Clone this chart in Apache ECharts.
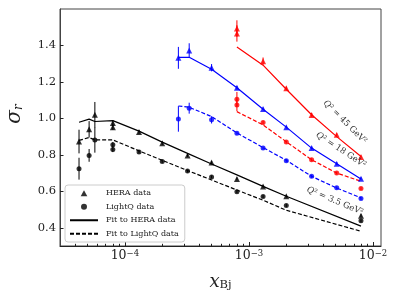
<!DOCTYPE html>
<html><head><meta charset="utf-8">
<script src="https://cdn.jsdelivr.net/npm/echarts@6/dist/echarts.min.js"></script>
<style>html,body{margin:0;padding:0;background:#fff}#c{width:399px;height:299px}</style>
</head><body><div id="c"></div>
<script>
// ---- axis ticks ----
const xMajorTicks = [1e-4, 1e-3, 1e-2];
const xMinorTicks = [4e-5,5e-5,6e-5,7e-5,8e-5,9e-5,2e-4,3e-4,4e-4,5e-4,6e-4,7e-4,8e-4,9e-4,2e-3,3e-3,4e-3,5e-3,6e-3,7e-3,8e-3,9e-3];
const yTicks = [0.4, 0.6, 0.8, 1.0, 1.2, 1.4];

// ---- Q2 = 3.5 GeV2 (black) ----
const blackX        = [4.27e-5, 5.15e-5, 5.73e-5, 8.0e-5, 8.0e-5, 1.3e-4, 2.0e-4, 3.2e-4, 5.0e-4, 8.0e-4, 1.3e-3, 2.0e-3, 8.0e-3];
const blackHera     = [0.873, 0.940, 1.020, 0.974, 0.952, 0.925, 0.864, 0.797, 0.758, 0.668, 0.627, 0.573, 0.466];
const blackHeraErr  = [0.065, 0.045, 0.070, 0.015, 0.015, 0.010, 0.010, 0.008, 0.008, 0.008, 0.008, 0.008, 0.008];
const blackLightQ   = [0.724, 0.797, 0.882, 0.855, 0.830, 0.815, 0.764, 0.711, 0.679, 0.598, 0.571, 0.522, 0.438];
const blackLightQErr= [0.060, 0.035, 0.070, 0.015, 0.015, 0.008, 0.008, 0.008, 0.008, 0.008, 0.008, 0.008, 0.008];
const blackFitX     = [4.27e-5, 5.15e-5, 5.73e-5, 8.0e-5, 1.3e-4, 2.0e-4, 3.2e-4, 5.0e-4, 8.0e-4, 1.3e-3, 2.0e-3, 8.0e-3];
const blackFitHera  = [0.979, 0.996, 0.983, 0.988, 0.930, 0.870, 0.808, 0.750, 0.690, 0.627, 0.573, 0.409];
const blackFitLightQ= [0.879, 0.895, 0.882, 0.882, 0.822, 0.770, 0.714, 0.662, 0.607, 0.551, 0.496, 0.381];

// ---- Q2 = 18 GeV2 (blue) ----
const blueX         = [2.7e-4, 3.3e-4, 5.0e-4, 8.0e-4, 1.3e-3, 2.0e-3, 3.2e-3, 5.1e-3, 8.0e-3];
const blueHera      = [1.332, 1.372, 1.278, 1.168, 1.052, 0.952, 0.837, 0.751, 0.669];
const blueHeraErr   = [0.060, 0.040, 0.020, 0.010, 0.008, 0.008, 0.008, 0.008, 0.008];
const blueLightQ    = [0.997, 1.056, 0.992, 0.919, 0.837, 0.768, 0.682, 0.619, 0.560];
const blueLightQErr = [0.070, 0.030, 0.020, 0.008, 0.008, 0.008, 0.008, 0.008, 0.008];
const blueFitHera   = [1.335, 1.335, 1.270, 1.168, 1.050, 0.952, 0.837, 0.751, 0.667];
const blueFitLightQ = [1.068, 1.061, 1.010, 0.920, 0.840, 0.770, 0.682, 0.618, 0.564];

// ---- Q2 = 45 GeV2 (red) ----
const redX          = [8.0e-4, 8.0e-4, 1.3e-3, 2.0e-3, 3.2e-3, 5.1e-3, 8.0e-3];
const redHera       = [1.493, 1.466, 1.314, 1.165, 1.019, 0.910, 0.788];
const redHeraErr    = [0.045, 0.045, 0.020, 0.010, 0.010, 0.008, 0.008];
const redLightQ     = [1.105, 1.074, 0.977, 0.870, 0.773, 0.700, 0.615];
const redLightQErr  = [0.040, 0.035, 0.010, 0.008, 0.008, 0.008, 0.008];
const redFitX       = [8.0e-4, 1.3e-3, 2.0e-3, 3.2e-3, 5.1e-3, 8.0e-3];
const redFitHera    = [1.392, 1.292, 1.160, 1.020, 0.900, 0.791];
const redFitLightQ  = [1.037, 0.964, 0.872, 0.773, 0.700, 0.655];

const legendNames = ['HERA data', 'LightQ data', 'Fit to HERA data', 'Fit to LightQ data'];
const FONT = 'DejaVu Serif';

function pairs(xs, ys) { return xs.map((x, i) => [x, ys[i]]); }
function scatter(name, xs, ys, symbol, color) {
  return { type: 'scatter', name, data: pairs(xs, ys), symbol,
    symbolSize: symbol === 'triangle' ? 6 : 5, itemStyle: { color }, z: 4 };
}
function fit(name, xs, ys, color, dashed) {
  return { type: 'line', name, data: pairs(xs, ys), symbol: 'none', showSymbol: false, z: 3,
    lineStyle: { color, width: 1.2, type: dashed ? [4, 2] : 'solid' }, itemStyle: { color } };
}
function errbars(xs, ys, es, color) {
  return { type: 'custom', silent: true, z: 2,
    data: xs.map((x, i) => [x, ys[i] - es[i], ys[i] + es[i]]),
    encode: { x: 0, y: [1, 2] },
    renderItem(params, api) {
      const a = api.coord([api.value(0), api.value(1)]);
      const b = api.coord([api.value(0), api.value(2)]);
      return { type: 'line', shape: { x1: a[0], y1: a[1], x2: b[0], y2: b[1] },
        style: { stroke: color, lineWidth: 1 } };
    } };
}

const series = [
  errbars(blackX, blackHera, blackHeraErr, '#000'),
  errbars(blackX, blackLightQ, blackLightQErr, '#000'),
  errbars(blueX, blueHera, blueHeraErr, '#0000ff'),
  errbars(blueX, blueLightQ, blueLightQErr, '#0000ff'),
  errbars(redX, redHera, redHeraErr, '#ff0000'),
  errbars(redX, redLightQ, redLightQErr, '#ff0000'),
  scatter('HERA data', blackX, blackHera, 'triangle', '#000'),
  scatter('LightQ data', blackX, blackLightQ, 'circle', '#000'),
  fit('Fit to HERA data', blackFitX, blackFitHera, '#000', false),
  fit('Fit to LightQ data', blackFitX, blackFitLightQ, '#000', true),
  scatter('HERA 18', blueX, blueHera, 'triangle', '#0000ff'),
  scatter('LightQ 18', blueX, blueLightQ, 'circle', '#0000ff'),
  fit('Fit HERA 18', blueX, blueFitHera, '#0000ff', false),
  fit('Fit LightQ 18', blueX, blueFitLightQ, '#0000ff', true),
  scatter('HERA 45', redX, redHera, 'triangle', '#ff0000'),
  scatter('LightQ 45', redX, redLightQ, 'circle', '#ff0000'),
  fit('Fit HERA 45', redFitX, redFitHera, '#ff0000', false),
  fit('Fit LightQ 45', redFitX, redFitLightQ, '#ff0000', true)
];

const XMIN = 3.0e-5, XMAX = 1.16e-2, YMIN = 0.30, YMAX = 1.60;
const axisColor = '#222';

function annot(x, y, deg, txt) {
  return { type: 'text', x, y, rotation: -deg * Math.PI / 180, z: 10,
    style: { text: txt, fontFamily: FONT, fontSize: 8.5, fill: '#333', align: 'center', verticalAlign: 'middle',
      rich: { q: { fontStyle: 'italic', fontFamily: FONT, fontSize: 8.5, fill: '#333' } } } };
}

const chart = echarts.init(document.getElementById('c'), null, { renderer: 'canvas' });
chart.setOption({
  animation: false,
  backgroundColor: '#fff',
  grid: { left: 60, right: 18, top: 9, bottom: 53, show: true, borderColor: '#444', borderWidth: 1, backgroundColor: 'transparent' },
  xAxis: [
    { type: 'log', logBase: 10, min: XMIN, max: XMAX,
      axisLine: { show: true, lineStyle: { color: axisColor, width: 1 } },
      axisTick: { show: true, inside: true, length: 4, customValues: xMajorTicks, lineStyle: { color: axisColor } },
      axisLabel: { show: true, customValues: xMajorTicks, margin: 3,
        formatter: v => '{b|10}{s|−' + (-Math.round(Math.log10(v))) + '}',
        rich: { b: { fontFamily: FONT, fontSize: 12.5, lineHeight: 13, verticalAlign: 'bottom', color: '#222' },
                s: { fontFamily: FONT, fontSize: 8.5, lineHeight: 9, verticalAlign: 'top', padding: [0, 0, 6, 0], color: '#222' } } },
      splitLine: { show: false },
      name: '{a|x}{b|Bj}', nameLocation: 'middle', nameGap: 24,
      nameTextStyle: { rich: {
        a: { fontFamily: 'DejaVu Serif', fontStyle: 'italic', fontSize: 18, lineHeight: 18, verticalAlign: 'top', color: '#222' },
        b: { fontFamily: FONT, fontSize: 11.5, lineHeight: 12, verticalAlign: 'bottom', padding: [10, 0, 0, 0], color: '#222' } } } },
    { type: 'log', logBase: 10, min: XMIN, max: XMAX, position: 'bottom', offset: 0,
      axisLine: { show: false },
      axisTick: { show: true, inside: true, length: 2.2, customValues: xMinorTicks, lineStyle: { color: axisColor } },
      axisLabel: { show: false }, splitLine: { show: false } }
  ],
  yAxis: {
    type: 'value', min: YMIN, max: YMAX,
    axisLine: { show: true, lineStyle: { color: '#444', width: 1 } },
    axisTick: { show: true, inside: true, length: 3.5, customValues: yTicks, lineStyle: { color: axisColor } },
    axisLabel: { customValues: yTicks, formatter: v => v.toFixed(1), margin: 4, fontFamily: FONT, fontSize: 11.5, color: '#222' },
    splitLine: { show: false }
  },
  legend: {
    data: [
      { name: legendNames[0], icon: 'path://M5,0L10,9L0,9Z', symbolKeepAspect: true },
      { name: legendNames[1], icon: 'circle' },
      { name: legendNames[2], itemStyle: { opacity: 0 } },
      { name: legendNames[3], itemStyle: { opacity: 0 } }
    ],
    orient: 'vertical', left: 65, top: 185, symbolKeepAspect: true,
    itemWidth: 28, itemHeight: 6, itemGap: 3, padding: [3, 6, 3, 4],
    borderColor: '#ccc', borderWidth: 1, borderRadius: 3, backgroundColor: '#fff',
    selectedMode: false,
    textStyle: { fontFamily: FONT, fontSize: 8, color: '#222', lineHeight: 10.5, padding: [0, 0, 0, 3] }
  },
  graphic: [
    { type: 'text', x: 15, y: 114, rotation: Math.PI / 2, z: 10,
      style: { text: '{a|σ}{b|r}', align: 'center', verticalAlign: 'middle',
        rich: { a: { fontFamily: FONT, fontStyle: 'italic', fontSize: 20, lineHeight: 20, verticalAlign: 'top', fill: '#222' },
                b: { fontFamily: FONT, fontStyle: 'italic', fontSize: 12, lineHeight: 12, verticalAlign: 'bottom', padding: [11, 0, 0, 0], fill: '#222' } } } },
    annot(345, 122, 45, '{q|Q}² = 45 GeV²'),
    annot(341, 150, 33, '{q|Q}² = 18 GeV²'),
    annot(335, 201, 23, '{q|Q}² = 3.5 GeV²')
  ],
  series
});
</script></body></html>
